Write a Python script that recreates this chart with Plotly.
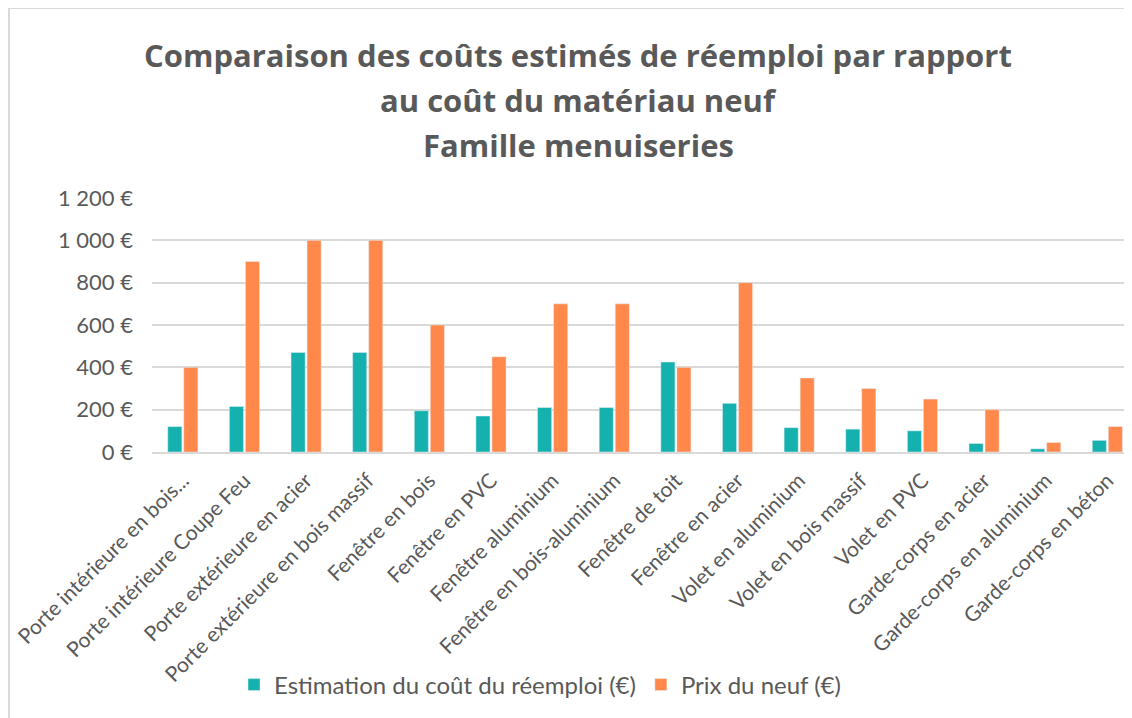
import plotly.graph_objects as go

# Données
categories = [
    "Porte intérieure en bois...",
    "Porte intérieure Coupe Feu",
    "Porte extérieure en acier",
    "Porte extérieure en bois massif",
    "Fenêtre en bois",
    "Fenêtre en PVC",
    "Fenêtre aluminium",
    "Fenêtre en bois-aluminium",
    "Fenêtre de toit",
    "Fenêtre en acier",
    "Volet en aluminium",
    "Volet en bois massif",
    "Volet en PVC",
    "Garde-corps en acier",
    "Garde-corps en aluminium",
    "Garde-corps en béton",
]
reemploi = [120, 215, 470, 470, 195, 170, 210, 210, 425, 230, 115, 108, 100, 40, 15, 55]
neuf = [400, 900, 1000, 1000, 600, 450, 700, 700, 400, 800, 350, 300, 250, 200, 45, 120]

title_lines = [
    "Comparaison des coûts estimés de réemploi par rapport",
    "au coût du matériau neuf",
    "Famille menuiseries",
]

grey = "#595959"
OFF = 8  # marge du body de la page html
W, H = 1132 - OFF, 718 - OFF
L, T = 152 - OFF, 198 - OFF
B = H - (452 - OFF)
R = 0
plot_h = H - T - B
plot_w = W - L - R


def py(p):
    # pixel vertical de la page -> coordonnée paper
    return (H - B - (p - OFF)) / plot_h


def px_(p):
    return (p - OFF - L) / plot_w


fig = go.Figure()
fig.add_trace(go.Bar(x=categories, y=reemploi, name="Estimation du coût du réemploi (€)",
                     marker_color="#14B1AE"))
fig.add_trace(go.Bar(x=categories, y=neuf, name="Prix du neuf (€)",
                     marker_color="#FF884A"))

for txt, ypix in zip(title_lines, [55, 100, 145]):
    fig.add_annotation(text="<b>%s</b>" % txt, xref="paper", yref="paper",
                       x=px_(578), y=py(ypix), xanchor="center", yanchor="middle",
                       showarrow=False,
                       font=dict(family="Open Sans", size=31, color=grey))

# cadre du graphique
fig.add_shape(type="rect", xref="paper", yref="paper",
              x0=px_(OFF + 1), x1=px_(1145), y0=py(740), y1=py(8),
              line=dict(color="#D9D9D9", width=2), layer="below")

fig.update_layout(
    width=W, height=H,
    margin=dict(l=L, r=R, t=T, b=B),
    paper_bgcolor="white", plot_bgcolor="white",
    barmode="group", bargap=0.48, bargroupgap=0.12,
    font=dict(family="Lato", color=grey),
    separators=", ",
    legend=dict(orientation="h", x=px_(234), y=py(685), xanchor="left", yanchor="middle",
                font=dict(size=24, color=grey), itemwidth=30, traceorder="normal"),
    showlegend=True,
)
fig.update_xaxes(range=[-0.5, 15.4], tickangle=-45, tickfont=dict(size=21, color=grey),
                 showline=True, linecolor="#D9D9D9", linewidth=2, ticks="",
                 ticklabelstandoff=6)
fig.update_yaxes(range=[0, 1200], dtick=200, tickformat=",d", ticksuffix=" €",
                 tickfont=dict(size=22, color=grey), gridcolor="#D9D9D9", gridwidth=2,
                 zeroline=False, ticklabelstandoff=18)

fig.write_html("out.html")
